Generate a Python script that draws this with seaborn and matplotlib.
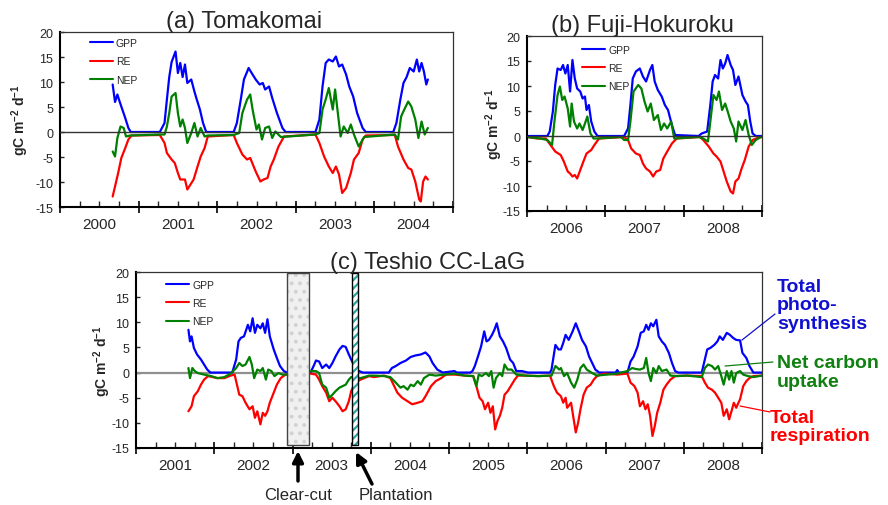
import numpy as np
import pandas as pd
import matplotlib
matplotlib.use('Agg')
import matplotlib.pyplot as plt
import seaborn as sns
from matplotlib.patches import Rectangle
from matplotlib.lines import Line2D
from matplotlib.ticker import FuncFormatter

# (decimal year, gC m-2 d-1)
# (a) Tomakomai
tom_gpp = [(2000.67, 9.5), (2000.70, 6.0), (2000.73, 7.5), (2000.75, 6.5), (2000.78, 5.1), (2000.83, 2.8),
           (2000.87, 0.8), (2000.90, 0), (2001.27, 0), (2001.33, 1.8), (2001.36, 6.5), (2001.39, 11),
           (2001.42, 14), (2001.47, 16.1), (2001.50, 11.8), (2001.53, 13.8), (2001.56, 11), (2001.59, 13.5),
           (2001.62, 9.8), (2001.67, 10.5), (2001.71, 8.1), (2001.74, 6.5), (2001.78, 4.5), (2001.82, 1.8),
           (2001.86, 0), (2002.21, 0), (2002.25, 1.8), (2002.30, 6.5), (2002.34, 10.5), (2002.40, 12.8),
           (2002.45, 11.5), (2002.49, 10.5), (2002.54, 9.5), (2002.58, 9.8), (2002.61, 8.5), (2002.66, 9.1),
           (2002.70, 6.8), (2002.76, 3.8), (2002.83, 0.8), (2002.87, 0), (2003.25, 0), (2003.30, 2.5),
           (2003.34, 9.1), (2003.38, 13.8), (2003.42, 14.5), (2003.47, 14.1), (2003.51, 15.1), (2003.55, 13.1),
           (2003.59, 13.5), (2003.64, 11.5), (2003.68, 9.1), (2003.73, 7.1), (2003.78, 3.8), (2003.85, 0.8),
           (2003.89, 0), (2004.24, 0), (2004.28, 1.8), (2004.33, 6.5), (2004.37, 9.8), (2004.41, 11),
           (2004.45, 12.8), (2004.50, 12.1), (2004.54, 14.5), (2004.57, 12.1), (2004.60, 13.8), (2004.63, 12.1),
           (2004.66, 9.5), (2004.68, 10.5)]
tom_re = [(2000.67, -12.9), (2000.70, -10.9), (2000.74, -8.2), (2000.78, -5.2), (2000.83, -3.2), (2000.87, -1.5),
          (2000.91, -0.7), (2001.27, -0.6), (2001.33, -2.2), (2001.36, -4.2), (2001.42, -5.5), (2001.46, -6.2),
          (2001.50, -8.2), (2001.53, -9.5), (2001.59, -9.5), (2001.62, -11.5), (2001.66, -10.5), (2001.70, -9.5),
          (2001.75, -6.9), (2001.79, -4.9), (2001.84, -3.2), (2001.88, -0.9), (2002.21, -0.6), (2002.25, -2.2),
          (2002.32, -4.5), (2002.38, -5.5), (2002.42, -5.2), (2002.49, -7.9), (2002.55, -9.9), (2002.59, -9.5),
          (2002.64, -9.2), (2002.68, -6.9), (2002.72, -5.5), (2002.78, -2.9), (2002.85, -0.9), (2003.25, -0.5),
          (2003.30, -2.2), (2003.36, -4.9), (2003.42, -6.9), (2003.47, -8.2), (2003.51, -6.9), (2003.55, -8.5),
          (2003.59, -12.2), (2003.64, -11.2), (2003.70, -8.2), (2003.74, -5.5), (2003.80, -4.2), (2003.85, -1.5),
          (2003.89, -0.7), (2004.26, -0.6), (2004.30, -2.9), (2004.37, -5.5), (2004.43, -7.2), (2004.47, -7.5),
          (2004.52, -9.9), (2004.57, -13.5), (2004.59, -13.9), (2004.62, -9.9), (2004.65, -8.9), (2004.68, -9.5)]
tom_nep = [(2000.67, -3.9), (2000.70, -4.9), (2000.73, -1.2), (2000.77, 1.1), (2000.81, 0.8), (2000.84, -0.9),
           (2000.89, -0.7), (2001.27, -0.5), (2001.33, -0.5), (2001.36, 1.1), (2001.39, 3.8), (2001.42, 7.1),
           (2001.47, 7.8), (2001.50, 3.8), (2001.53, 1.1), (2001.56, 2.5), (2001.59, 0.8), (2001.62, -2.2),
           (2001.67, -0.2), (2001.71, 1.8), (2001.75, -0.9), (2001.79, 0.8), (2001.84, -0.9), (2001.88, -0.7),
           (2002.21, -0.6), (2002.28, -0.2), (2002.32, 3.8), (2002.38, 6.5), (2002.42, 7.5), (2002.45, 4.5),
           (2002.50, 0.5), (2002.53, 1.5), (2002.57, -1.5), (2002.61, 0.8), (2002.66, 1.1), (2002.70, -1.2),
           (2002.74, 0.1), (2002.81, -1.0), (2003.25, -0.5), (2003.30, -0.2), (2003.34, 4.5), (2003.38, 6.5),
           (2003.42, 8.8), (2003.47, 4.5), (2003.50, 8.5), (2003.54, 3.1), (2003.57, -0.9), (2003.61, 1.1),
           (2003.66, -0.2), (2003.70, 1.5), (2003.74, -0.5), (2003.80, -2.9), (2003.87, -1.0), (2004.26, -0.5),
           (2004.30, -1.5), (2004.34, 3.1), (2004.38, 4.5), (2004.43, 6.1), (2004.47, 5.1), (2004.52, 2.5),
           (2004.56, -1.2), (2004.60, 2.1), (2004.64, -0.5), (2004.68, 0.8)]

# (b) Fuji-Hokuroku
fuji_gpp = [(2006.00, 0), (2006.26, 0), (2006.29, 0.9), (2006.33, 4.9), (2006.36, 10.2), (2006.39, 13.5),
            (2006.43, 13.2), (2006.46, 14.2), (2006.49, 12.5), (2006.52, 14.2), (2006.55, 8.9), (2006.58, 15.2),
            (2006.61, 11.5), (2006.64, 9.5), (2006.68, 8.9), (2006.71, 7.5), (2006.74, 7.9), (2006.76, 5.2),
            (2006.79, 6.2), (2006.82, 2.9), (2006.86, 0.9), (2006.90, 0), (2007.24, 0), (2007.29, 1.5),
            (2007.32, 6.2), (2007.35, 11.5), (2007.39, 12.9), (2007.44, 13.5), (2007.48, 11.9), (2007.52, 10.9),
            (2007.57, 13.2), (2007.60, 14.2), (2007.63, 10.9), (2007.67, 9.2), (2007.72, 7.9), (2007.76, 6.2),
            (2007.80, 5.2), (2007.85, 2.2), (2007.89, 0.2), (2008.19, 0), (2008.23, 0.5), (2008.30, 0.9),
            (2008.34, 6.2), (2008.37, 10.9), (2008.40, 12.2), (2008.44, 11.5), (2008.47, 15.2), (2008.50, 13.5),
            (2008.53, 14.5), (2008.56, 16.2), (2008.60, 14.2), (2008.63, 13.2), (2008.66, 10.2), (2008.70, 11.9),
            (2008.75, 8.2), (2008.79, 6.9), (2008.82, 6.2), (2008.85, 2.9), (2008.88, 0.5), (2008.92, 0),
            (2009.00, 0)]
fuji_re = [(2006.00, -0.2), (2006.13, -0.5), (2006.24, -0.5), (2006.30, -1.8), (2006.36, -3.1), (2006.43, -3.8),
           (2006.47, -5.1), (2006.52, -7.1), (2006.55, -7.5), (2006.58, -8.1), (2006.61, -7.8), (2006.64, -8.5),
           (2006.68, -6.8), (2006.72, -5.1), (2006.76, -3.5), (2006.82, -2.8), (2006.86, -1.8), (2006.92, -0.5),
           (2007.24, -0.2), (2007.29, -0.8), (2007.33, -2.5), (2007.39, -3.5), (2007.44, -3.8), (2007.48, -5.5),
           (2007.52, -6.5), (2007.57, -7.1), (2007.61, -8.1), (2007.65, -7.1), (2007.70, -6.8), (2007.74, -4.5),
           (2007.79, -3.1), (2007.85, -1.5), (2007.91, -0.5), (2008.21, -0.2), (2008.25, -0.8), (2008.32, -2.1),
           (2008.38, -3.5), (2008.42, -4.1), (2008.47, -5.1), (2008.51, -7.1), (2008.55, -9.1), (2008.60, -11.1),
           (2008.63, -11.5), (2008.66, -9.1), (2008.70, -8.5), (2008.74, -6.5), (2008.78, -4.8), (2008.83, -2.1),
           (2008.88, -0.8), (2008.96, -0.3), (2009.00, -0.2)]
fuji_nep = [(2006.00, -0.2), (2006.17, -0.5), (2006.26, -0.8), (2006.32, -1.8), (2006.35, 2.9), (2006.39, 8.2),
            (2006.42, 9.9), (2006.45, 7.2), (2006.48, 7.9), (2006.52, 5.5), (2006.55, 1.9), (2006.57, 6.5),
            (2006.60, 2.9), (2006.64, 1.5), (2006.67, 2.5), (2006.71, 1.2), (2006.74, 2.5), (2006.77, 3.9),
            (2006.81, 0.5), (2006.85, -0.5), (2006.90, -0.5), (2007.20, -0.2), (2007.24, -0.8), (2007.29, -0.8),
            (2007.32, 2.9), (2007.36, 8.9), (2007.42, 10.2), (2007.46, 9.5), (2007.50, 6.9), (2007.54, 4.9),
            (2007.58, 6.5), (2007.62, 3.2), (2007.67, 4.2), (2007.71, 1.2), (2007.75, 2.5), (2007.79, 1.5),
            (2007.84, 2.9), (2007.88, -0.5), (2008.19, -0.2), (2008.25, -0.5), (2008.31, -1.1), (2008.35, 4.2),
            (2008.38, 8.2), (2008.42, 7.2), (2008.45, 8.9), (2008.49, 5.2), (2008.53, 6.5), (2008.57, 4.5),
            (2008.60, 2.9), (2008.64, 1.5), (2008.67, -1.1), (2008.70, 2.9), (2008.75, 1.2), (2008.79, 3.2),
            (2008.83, 0.2), (2008.87, -1.8), (2008.92, -0.8), (2009.00, -0.1)]

# (c) Teshio CC-LaG
tes_gpp = [(2001.67, 8.5), (2001.69, 6.2), (2001.71, 7.2), (2001.74, 4.9), (2001.78, 3.6), (2001.83, 2.6),
           (2001.87, 1.6), (2001.91, 0.6), (2001.95, 0), (2002.23, 0), (2002.28, 2.6), (2002.31, 6.2),
           (2002.34, 6.9), (2002.38, 7.2), (2002.43, 9.5), (2002.46, 8.2), (2002.49, 10.8), (2002.52, 7.9),
           (2002.55, 9.5), (2002.59, 8.8), (2002.62, 9.8), (2002.65, 7.9), (2002.68, 10.6), (2002.71, 7.2),
           (2002.76, 4.6), (2002.80, 2.9), (2002.84, 1.3), (2002.89, 0.3), (2002.93, 0), (2003.23, 0),
           (2003.27, 1.3), (2003.30, 2.4), (2003.34, 2.2), (2003.38, 0.9), (2003.43, 1.6), (2003.47, 0.9),
           (2003.51, 1.9), (2003.55, 3.2), (2003.60, 4.6), (2003.64, 5.3), (2003.68, 5.1), (2003.72, 3.6),
           (2003.75, 2.6), (2003.80, 1.0), (2003.85, 0.3), (2003.90, 0), (2004.23, 0), (2004.27, 0.9),
           (2004.32, 1.3), (2004.38, 1.9), (2004.45, 2.4), (2004.51, 3.1), (2004.57, 3.4), (2004.64, 3.6),
           (2004.70, 4.0), (2004.75, 3.2), (2004.79, 1.9), (2004.85, 0.6), (2004.92, 0), (2005.07, 0.3),
           (2005.10, 0), (2005.27, 0), (2005.30, 0.3), (2005.33, 1.3), (2005.37, 3.2), (2005.41, 5.2),
           (2005.45, 8.2), (2005.48, 6.2), (2005.51, 6.5), (2005.55, 7.5), (2005.58, 8.5), (2005.61, 9.8),
           (2005.65, 7.2), (2005.69, 6.2), (2005.73, 4.9), (2005.78, 2.6), (2005.82, 1.9), (2005.86, 0.3),
           (2005.93, 0.3), (2006.01, 0), (2006.29, 0), (2006.31, 0.6), (2006.36, 5.5), (2006.40, 4.6),
           (2006.43, 4.6), (2006.46, 5.9), (2006.49, 7.5), (2006.53, 6.5), (2006.58, 8.2), (2006.62, 9.8),
           (2006.66, 8.2), (2006.70, 6.5), (2006.75, 5.2), (2006.79, 3.2), (2006.83, 1.9), (2006.87, 0.6),
           (2006.92, 0), (2007.13, 0), (2007.15, 0.5), (2007.17, 0), (2007.28, 0), (2007.32, 2.2),
           (2007.36, 3.2), (2007.41, 5.2), (2007.45, 7.9), (2007.49, 8.2), (2007.52, 9.5), (2007.55, 8.5),
           (2007.58, 9.8), (2007.61, 9.2), (2007.65, 10.5), (2007.68, 7.2), (2007.72, 6.2), (2007.76, 5.5),
           (2007.81, 3.9), (2007.85, 1.9), (2007.89, 0.3), (2007.93, 0), (2008.23, 0), (2008.27, 2.6),
           (2008.30, 4.6), (2008.34, 4.9), (2008.39, 5.5), (2008.43, 6.2), (2008.46, 7.2), (2008.50, 6.5),
           (2008.55, 7.9), (2008.59, 7.5), (2008.63, 6.9), (2008.67, 6.5), (2008.72, 6.4), (2008.75, 3.9),
           (2008.80, 2.9), (2008.84, 1.3), (2008.89, 0), (2009.00, 0)]
tes_re = [(2001.67, -7.7), (2001.71, -6.7), (2001.74, -4.7), (2001.79, -3.7), (2001.83, -2.4), (2001.87, -1.4),
          (2001.92, -0.7), (2001.98, -0.9), (2002.04, -1.1), (2002.13, -1.1), (2002.21, -0.6), (2002.26, -0.4),
          (2002.29, -2.4), (2002.32, -4.4), (2002.36, -4.7), (2002.40, -6.0), (2002.45, -7.3), (2002.49, -6.7),
          (2002.52, -9.0), (2002.55, -7.7), (2002.59, -10.3), (2002.62, -8.0), (2002.65, -8.6), (2002.68, -7.7),
          (2002.71, -6.0), (2002.76, -4.0), (2002.80, -2.4), (2002.85, -1.1), (2002.91, -0.4), (2003.23, -0.2),
          (2003.30, -0.4), (2003.34, -1.4), (2003.38, -2.7), (2003.43, -4.0), (2003.47, -5.7), (2003.51, -5.0),
          (2003.55, -5.7), (2003.60, -6.7), (2003.64, -7.7), (2003.68, -7.3), (2003.72, -5.7), (2003.75, -3.7),
          (2003.80, -2.0), (2003.87, -1.4), (2003.98, -0.7), (2004.04, -0.9), (2004.17, -0.6), (2004.25, -1.1),
          (2004.30, -2.7), (2004.34, -4.0), (2004.40, -5.0), (2004.47, -5.7), (2004.53, -6.3), (2004.60, -6.0),
          (2004.66, -5.7), (2004.70, -4.7), (2004.77, -2.7), (2004.83, -1.7), (2004.90, -1.1), (2004.96, -0.4),
          (2005.07, -0.4), (2005.20, -0.6), (2005.31, -0.7), (2005.35, -2.7), (2005.39, -5.0), (2005.43, -5.7),
          (2005.46, -7.3), (2005.50, -6.0), (2005.53, -8.0), (2005.56, -6.7), (2005.59, -11.3), (2005.62, -9.6),
          (2005.65, -8.6), (2005.68, -7.0), (2005.71, -4.4), (2005.75, -3.7), (2005.80, -2.4), (2005.84, -1.4),
          (2005.88, -0.6), (2005.97, -0.6), (2006.14, -0.7), (2006.29, -0.6), (2006.34, -2.7), (2006.38, -4.0),
          (2006.43, -4.7), (2006.46, -6.0), (2006.49, -5.0), (2006.51, -7.0), (2006.56, -6.0), (2006.59, -9.0),
          (2006.62, -11.9), (2006.65, -10.0), (2006.68, -7.3), (2006.72, -4.4), (2006.76, -3.0), (2006.81, -2.4),
          (2006.85, -1.4), (2006.89, -0.7), (2006.98, -0.2), (2007.15, -0.4), (2007.28, -0.2), (2007.32, -2.0),
          (2007.37, -2.7), (2007.41, -4.0), (2007.44, -6.7), (2007.48, -5.7), (2007.51, -7.3), (2007.54, -6.3),
          (2007.57, -8.6), (2007.60, -12.6), (2007.63, -10.6), (2007.66, -8.0), (2007.70, -6.0), (2007.74, -3.4),
          (2007.78, -2.4), (2007.83, -1.4), (2007.89, -0.7), (2008.04, -0.6), (2008.23, -0.7), (2008.27, -2.0),
          (2008.31, -3.0), (2008.36, -3.4), (2008.40, -4.0), (2008.44, -5.0), (2008.48, -6.0), (2008.51, -8.6),
          (2008.55, -7.3), (2008.58, -9.3), (2008.61, -7.7), (2008.64, -6.0), (2008.67, -7.0), (2008.72, -5.3),
          (2008.76, -2.7), (2008.80, -1.7), (2008.84, -1.1), (2008.89, -0.7), (2009.00, -0.6)]
tes_nep = [(2001.67, 0.9), (2001.69, -1.1), (2001.72, 0.9), (2001.75, 0.3), (2001.79, -0.1), (2001.87, -0.4),
           (2001.96, -0.7), (2002.04, -1.1), (2002.13, -0.9), (2002.21, -0.2), (2002.28, 0.9), (2002.32, 1.9),
           (2002.36, 1.3), (2002.40, 1.6), (2002.45, 3.1), (2002.48, 1.6), (2002.51, -1.1), (2002.55, 0.6),
           (2002.59, 0.3), (2002.62, 0.9), (2002.66, -1.4), (2002.69, 0.6), (2002.73, 0.3), (2002.77, -0.7),
           (2002.82, -0.1), (2002.87, -0.4), (2002.93, -0.4), (2003.23, 0.3), (2003.30, 0.3), (2003.34, -0.1),
           (2003.38, -2.4), (2003.43, -3.0), (2003.47, -5.0), (2003.51, -4.4), (2003.55, -3.7), (2003.60, -3.0),
           (2003.64, -2.7), (2003.68, -2.4), (2003.72, -1.4), (2003.75, -0.9), (2003.87, -1.1), (2003.98, -0.6),
           (2004.04, -0.6), (2004.17, -0.7), (2004.25, -0.9), (2004.32, -2.0), (2004.38, -3.0), (2004.42, -2.7),
           (2004.47, -3.4), (2004.51, -2.4), (2004.55, -2.7), (2004.60, -1.7), (2004.64, -2.4), (2004.68, -1.1),
           (2004.75, -0.4), (2004.83, -0.6), (2004.94, -0.4), (2005.07, -0.2), (2005.20, -0.6), (2005.31, -0.7),
           (2005.35, -2.7), (2005.38, -0.4), (2005.42, -0.7), (2005.47, -0.1), (2005.51, -0.7), (2005.54, 0.3),
           (2005.57, -3.0), (2005.60, -1.1), (2005.65, -0.1), (2005.68, -0.7), (2005.71, 1.6), (2005.75, 0.6),
           (2005.80, 0.6), (2005.86, -0.4), (2005.97, -0.6), (2006.14, -0.7), (2006.31, -0.6), (2006.36, 1.3),
           (2006.41, 0.6), (2006.43, 0.9), (2006.47, -0.7), (2006.51, -0.1), (2006.56, -2.0), (2006.60, -3.0),
           (2006.64, -1.4), (2006.68, 0.9), (2006.72, 1.6), (2006.76, 0.6), (2006.83, -0.1), (2006.89, -0.6),
           (2007.02, -0.4), (2007.15, -0.2), (2007.28, 0.3), (2007.34, 0.9), (2007.39, 0.7), (2007.44, 0.6),
           (2007.49, 0.9), (2007.52, 2.9), (2007.55, -0.1), (2007.58, -1.7), (2007.61, 0.9), (2007.65, -0.1),
           (2007.68, 1.3), (2007.72, 0.3), (2007.78, 0.6), (2007.83, -0.6), (2007.91, -0.7), (2008.04, -0.6),
           (2008.23, -0.9), (2008.27, 0.9), (2008.31, 1.6), (2008.36, 1.3), (2008.40, 0.6), (2008.44, 1.3),
           (2008.48, -0.7), (2008.51, -2.4), (2008.55, 0.3), (2008.58, -1.4), (2008.61, 0.3), (2008.64, -2.0),
           (2008.67, -0.1), (2008.72, 0.3), (2008.76, -0.4), (2008.82, -0.7), (2008.89, -0.9), (2009.00, -0.6)]

series_names = ['GPP', 'RE', 'NEP']
series_colors = {'GPP': '#0000ff', 'RE': '#ff0000', 'NEP': '#008000'}

sns.set_style('ticks')
plt.rcParams['font.family'] = ['Liberation Sans', 'DejaVu Sans']
plt.rcParams['axes.unicode_minus'] = False
plt.rcParams['mathtext.fontset'] = 'custom'
plt.rcParams['mathtext.rm'] = 'Liberation Sans'
plt.rcParams['mathtext.bf'] = 'Liberation Sans:bold'
plt.rcParams['hatch.linewidth'] = 1.6

W, H = 888, 506
fig = plt.figure(figsize=(W / 100, H / 100), dpi=100)


def px_axes(x0, y0, x1, y1):
    return fig.add_axes([x0 / W, 1 - y1 / H, (x1 - x0) / W, (y1 - y0) / H])


def long_df(gpp, re, nep):
    parts = []
    for name, pts in zip(series_names, [gpp, re, nep]):
        d = pd.DataFrame(pts, columns=['year', 'flux'])
        d['series'] = name
        parts.append(d)
    return pd.concat(parts, ignore_index=True)


def year_label(x, pos):
    frac = x - np.floor(x)
    return str(int(np.floor(x))) if abs(frac - 0.5) < 0.01 else ''


def style_axes(ax, x0, x1, ylab_x):
    ax.set_xlim(x0, x1)
    ax.set_ylim(-15, 20)
    ax.set_yticks(range(-15, 21, 5))
    ax.set_xticks(np.arange(x0, x1 + 0.01, 1))
    ax.set_xticklabels([])
    ax.set_xticks(np.arange(x0, x1 + 0.01, 0.25), minor=True)
    ax.xaxis.set_minor_formatter(FuncFormatter(year_label))
    ax.tick_params(axis='x', which='major', direction='inout', length=8, width=1.4)
    ax.tick_params(axis='x', which='minor', direction='in', length=4, width=1, labelsize=11, pad=7)
    ax.tick_params(axis='y', direction='in', length=3, width=1, labelsize=9, pad=5)
    for s in ['left', 'bottom']:
        ax.spines[s].set_linewidth(1.5)
        ax.spines[s].set_color('black')
    for s in ['top', 'right']:
        ax.spines[s].set_linewidth(0.9)
        ax.spines[s].set_color('#333333')
    ax.set_xlabel('')
    ax.set_ylabel(r'gC m$^{\mathbf{-2}}$ d$^{\mathbf{-1}}$', fontsize=10, fontweight='bold')
    ax.yaxis.set_label_coords(ylab_x, 0.5)


def add_legend(ax, x, y):
    handles = [Line2D([], [], color=series_colors[n], lw=1.5) for n in series_names]
    ax.legend(handles, series_names, loc='upper left', bbox_to_anchor=(x, y), frameon=False,
              fontsize=7.5, handlelength=2.2, handletextpad=0.3, labelspacing=0.8,
              borderpad=0, borderaxespad=0)


def draw_panel(ax, df, zero_color, zero_lw, zero_z):
    sns.lineplot(data=df, x='year', y='flux', hue='series', hue_order=series_names,
                 palette=series_colors, estimator=None, lw=1.6, legend=False, ax=ax, zorder=2)
    ax.axhline(0, color=zero_color, lw=zero_lw, zorder=zero_z)


# (a)
ax_a = px_axes(60, 33, 453, 208)
draw_panel(ax_a, long_df(tom_gpp, tom_re, tom_nep), '#333333', 1.0, 3)
style_axes(ax_a, 2000, 2005, -0.074)
add_legend(ax_a, 0.076, 0.965)

# (b)
ax_b = px_axes(527, 37, 762, 212)
draw_panel(ax_b, long_df(fuji_gpp, fuji_re, fuji_nep), '#333333', 1.0, 3)
style_axes(ax_b, 2006, 2009, -0.094)
add_legend(ax_b, 0.234, 0.95)

# (c)
ax_c = px_axes(136, 273, 762, 449)
draw_panel(ax_c, long_df(tes_gpp, tes_re, tes_nep), '#909090', 1.6, 1)
style_axes(ax_c, 2001, 2009, -0.037)
add_legend(ax_c, 0.048, 0.956)

# clear-cut and plantation periods
ax_c.add_patch(Rectangle((2002.93, -14.4), 0.28, 34.2, fc='#f0f0f0', ec='#d2d2d2', hatch='..', lw=0, zorder=4))
ax_c.add_patch(Rectangle((2002.93, -14.4), 0.28, 34.2, fill=False, ec='#444444', lw=1, zorder=5))
ax_c.add_patch(Rectangle((2003.76, -14.4), 0.08, 34.2, fc='white', ec='#2fa3a3', hatch='////', lw=0, zorder=4))
ax_c.add_patch(Rectangle((2003.76, -14.4), 0.08, 34.2, fill=False, ec='black', lw=1, zorder=5))

# titles
fig.text(244 / W, 1 - 28 / H, '(a) Tomakomai', ha='center', va='baseline', fontsize=17)
fig.text(642 / W, 1 - 32 / H, '(b) Fuji-Hokuroku', ha='center', va='baseline', fontsize=17)
fig.text(428 / W, 1 - 269 / H, '(c) Teshio CC-LaG', ha='center', va='baseline', fontsize=17)

# arrows below panel (c)
arrow = dict(arrowstyle='-|>', color='black', lw=2.5, mutation_scale=16, shrinkA=0, shrinkB=0)
ax_c.annotate('', xy=(298 / W, 1 - 452 / H), xytext=(298 / W, 1 - 482 / H),
              xycoords='figure fraction', textcoords='figure fraction', arrowprops=arrow, annotation_clip=False)
ax_c.annotate('', xy=(356 / W, 1 - 453 / H), xytext=(372 / W, 1 - 485 / H),
              xycoords='figure fraction', textcoords='figure fraction', arrowprops=arrow, annotation_clip=False)
fig.text(298 / W, 1 - 496 / H, 'Clear-cut', ha='center', va='center', fontsize=12)
fig.text(396 / W, 1 - 496 / H, 'Plantation', ha='center', va='center', fontsize=12)

# right-hand labels with leader lines
fig.text(777 / W, 1 - 279 / H, 'Total\nphoto-\nsynthesis', ha='left', va='top', fontsize=14,
         fontweight='bold', color='#1010d0', linespacing=1.1)
fig.text(777 / W, 1 - 355 / H, 'Net carbon\nuptake', ha='left', va='top', fontsize=14,
         fontweight='bold', color='#108010', linespacing=1.15)
fig.text(770 / W, 1 - 410 / H, 'Total\nrespiration', ha='left', va='top', fontsize=14,
         fontweight='bold', color='#ff0000', linespacing=1.1)
for (x1, y1, x2, y2), c in [((742, 341, 775, 315), '#1010d0'), ((725, 367, 773, 363), '#108010'),
                            ((740, 407, 770, 413), '#ff0000')]:
    fig.add_artist(Line2D([x1 / W, x2 / W], [1 - y1 / H, 1 - y2 / H], transform=fig.transFigure,
                          color=c, lw=0.9))

fig.savefig('out.png', dpi=100)
